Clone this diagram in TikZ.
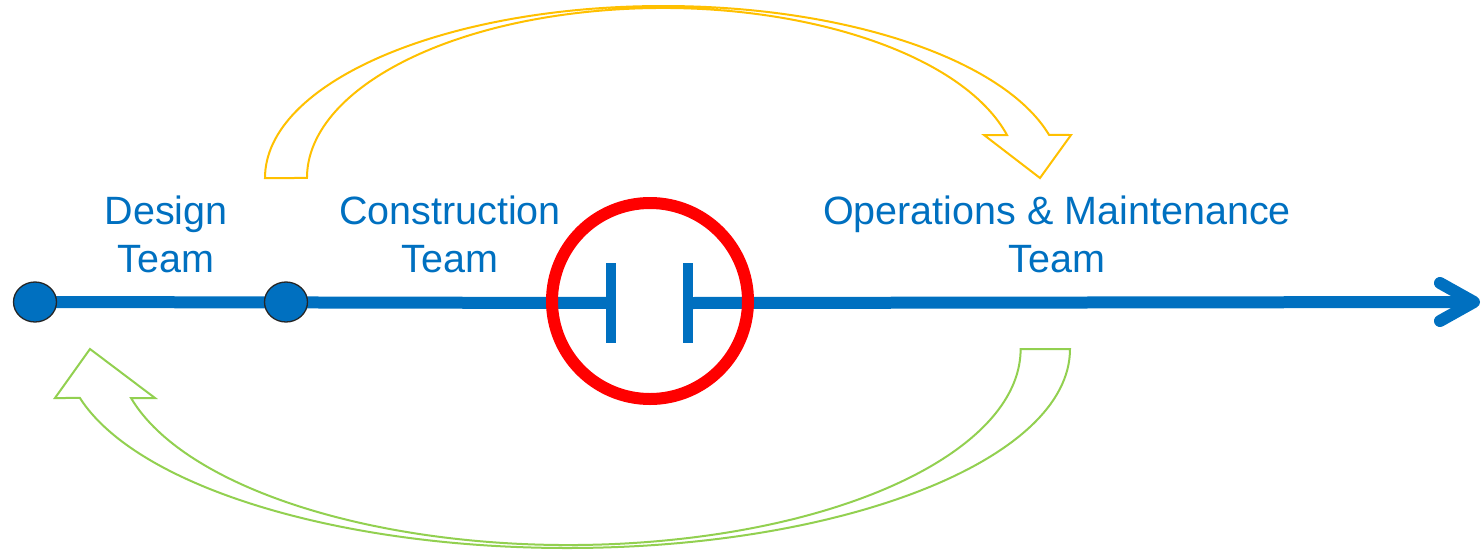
\documentclass[tikz,border=0pt]{standalone}
\usepackage{fontspec}
\setmainfont{Liberation Sans}
\usetikzlibrary{shapes.geometric,calc}
\definecolor{tblue}{RGB}{0,112,192}
\definecolor{tyellow}{RGB}{255,192,0}
\definecolor{tgreen}{RGB}{146,208,80}
\definecolor{tred}{RGB}{255,0,0}
\pgfdeclarelayer{background}
\pgfsetlayers{background,main}
\begin{document}
\begin{tikzpicture}[x=1pt,y=1pt,
  lbl/.style={text=tblue, font=\fontsize{39.5}{48}\selectfont, align=center, inner sep=0pt},
  dot/.style={ellipse, draw=black!85, line width=1.3pt, fill=tblue, minimum width=43pt, minimum height=40pt, inner sep=0pt},
  bar/.style={rectangle, fill=tblue, minimum width=10pt, minimum height=80pt, inner sep=0pt},
  mainline/.style={draw=tblue, line width=12pt},
  gapring/.style={circle, draw=tred, line width=12pt, minimum size=196pt, inner sep=0pt},
  yarrow/.style={draw=tyellow, line width=2pt, line join=miter},
  garrow/.style={draw=tgreen, line width=2pt, line join=miter}]
\useasboundingbox (0,0) rectangle (1484,-550);

% nodes on the timeline
\node[dot] (d1) at (35,-302) {};
\node[dot] (d2) at (286,-302) {};
\node[bar] (b1) at (611,-303) {};
\node[bar] (b2) at (688,-303) {};
\coordinate (end) at (1474,-302);
\node[gapring] (gap) at (650,-301) {};

% timeline
\begin{pgfonlayer}{background}
\draw[mainline] (d1.center) -- (b1.center);
\draw[mainline] (b2.center) -- (end);
\draw[mainline, line cap=round, line join=round] ($(end)+(-34,19)$) -- (end) -- ($(end)+(-34,-19)$);
\end{pgfonlayer}

% labels (base = baseline of the last line)
\node[lbl, anchor=base] (design) at (166,-272) {Design\\Team};
\node[lbl, anchor=base] (constr) at (450,-272) {Construction\\Team};
\node[lbl, anchor=base] (om) at (1057,-272) {Operations \& Maintenance\\Team};

% yellow curved arrow (top)
\draw[yarrow] (265,-178) arc[start angle=180, end angle=14.5, x radius=398.4pt, y radius=172pt]
  -- (1071,-135) -- (1040,-178) -- (984,-135) -- (1007,-135)
  arc[start angle=14.65, end angle=180, x radius=355.8pt, y radius=170pt] -- cycle;

% green curved arrow (bottom)
\draw[garrow] (1070,-349) arc[start angle=0, end angle=-165.75, x radius=502.8pt, y radius=199pt]
  -- (55,-398) -- (90,-349) -- (155,-398) -- (131,-398)
  arc[start angle=-165.52, end angle=0, x radius=452pt, y radius=196pt] -- cycle;
\end{tikzpicture}
\end{document}
